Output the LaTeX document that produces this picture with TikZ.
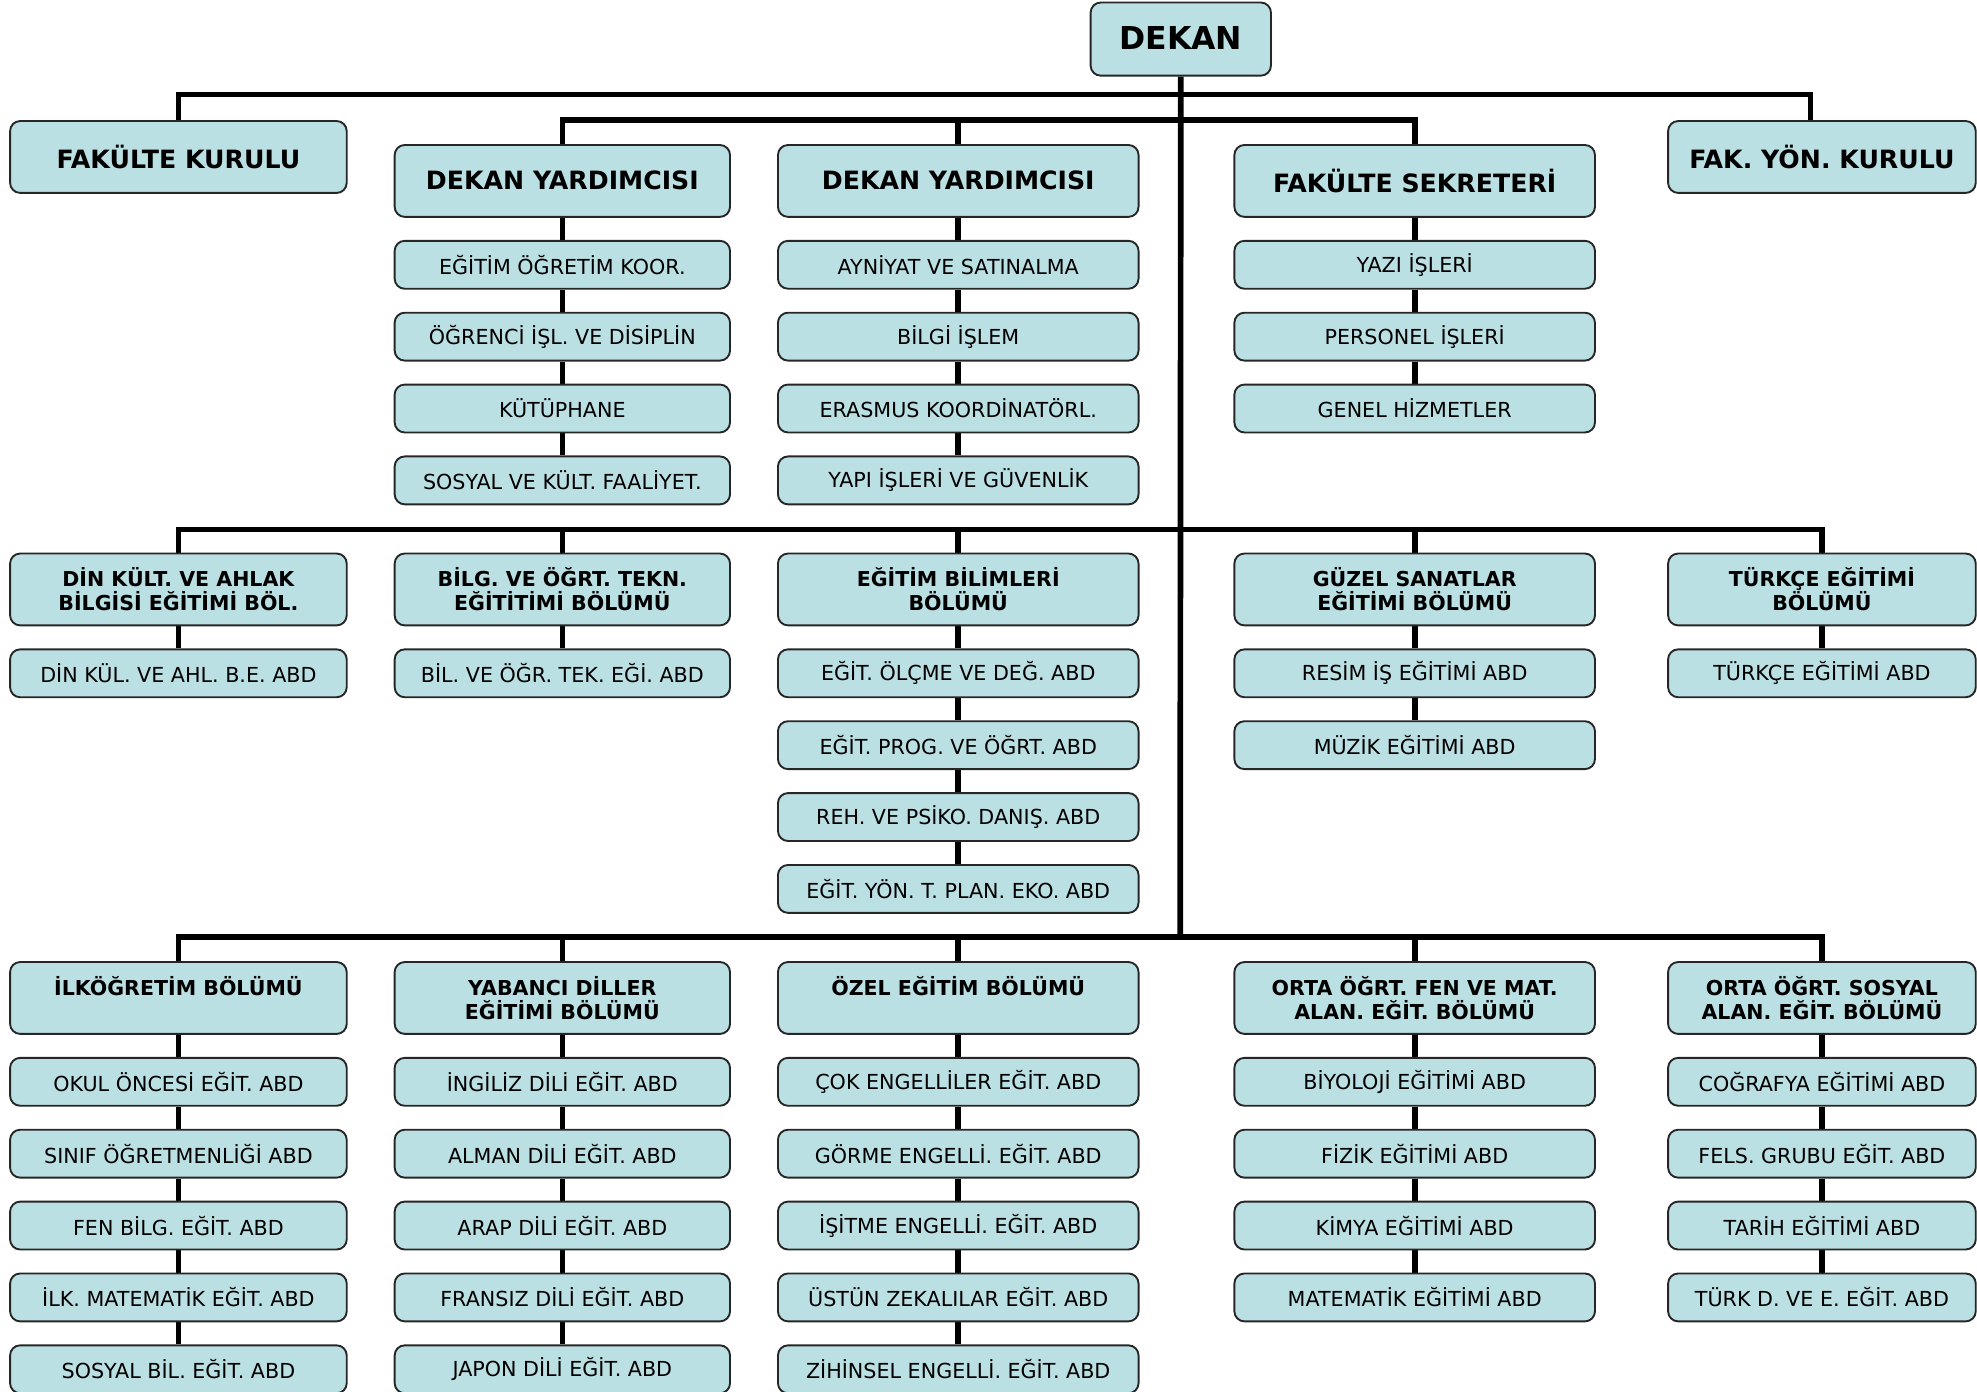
\documentclass[tikz,border=0pt]{standalone}
\usepackage{fontspec}
\setmainfont{DejaVu Sans}
\usetikzlibrary{backgrounds}
\definecolor{boxfill}{RGB}{187,224,227}
\begin{document}
\begin{tikzpicture}[x=1pt,y=-1pt,
  box/.style={draw=black!85, line width=1.5pt, fill=boxfill, rounded corners=8pt, inner sep=0pt, align=center},
  dekanbox/.style={box, minimum width=143pt, minimum height=58pt, font=\bfseries\fontsize{25}{30}\selectfont},
  headbox/.style={box, minimum height=57pt, font=\bfseries\fontsize{20}{24}\selectfont},
  deptbox/.style={box, minimum height=57pt, font=\bfseries\fontsize{16.3}{19}\selectfont},
  subbox/.style={box, minimum height=38pt, font=\fontsize{16.4}{19}\selectfont},
  wA/.style={minimum width=267pt},
  wB/.style={minimum width=266pt},
  wC/.style={minimum width=286pt},
  wD/.style={minimum width=286pt},
  wE/.style={minimum width=244pt},
  conn/.style={line width=4.5pt, draw=black}]
\useasboundingbox (0,0) rectangle (1568,1104);

% top
\node[dekanbox] (dekan) at (936.5,31) {\raisebox{1.5pt}{DEKAN}};
\node[headbox,wA] (fk)  at (141.5,124.5) {\raisebox{1pt}{FAKÜLTE KURULU}};
\node[headbox,wE] (fyk) at (1445,124.5) {\raisebox{1pt}{FAK. YÖN. KURULU}};
\node[headbox,wB] (dy1) at (446,143.5) {\raisebox{1pt}{DEKAN YARDIMCISI}};
\node[headbox,wC] (dy2) at (760,143.5) {\raisebox{1pt}{DEKAN YARDIMCISI}};
\node[headbox,wD] (fs)  at (1122,143.5) {\raisebox{1pt}{FAKÜLTE SEKRETERİ}};

\node[subbox,wB] (a1) at (446,210) {EĞİTİM ÖĞRETİM KOOR.};
\node[subbox,wB] (a2) at (446,267) {ÖĞRENCİ İŞL. VE DİSİPLİN};
\node[subbox,wB] (a3) at (446,324) {KÜTÜPHANE};
\node[subbox,wB] (a4) at (446,381) {SOSYAL VE KÜLT. FAALİYET.};

\node[subbox,wC] (b1) at (760,210) {AYNİYAT VE SATINALMA};
\node[subbox,wC] (b2) at (760,267) {BİLGİ İŞLEM};
\node[subbox,wC] (b3) at (760,324) {ERASMUS KOORDİNATÖRL.};
\node[subbox,wC] (b4) at (760,381) {YAPI İŞLERİ VE GÜVENLİK};

\node[subbox,wD] (c1) at (1122,210) {YAZI İŞLERİ};
\node[subbox,wD] (c2) at (1122,267) {PERSONEL İŞLERİ};
\node[subbox,wD] (c3) at (1122,324) {GENEL HİZMETLER};

% middle departments
\node[deptbox,wA] (d1) at (141.5,467.5) {DİN KÜLT. VE AHLAK\\BİLGİSİ EĞİTİMİ BÖL.};
\node[deptbox,wB] (d2) at (446,467.5) {BİLG. VE ÖĞRT. TEKN.\\EĞİTİTİMİ BÖLÜMÜ};
\node[deptbox,wC] (d3) at (760,467.5) {EĞİTİM BİLİMLERİ\\BÖLÜMÜ};
\node[deptbox,wD] (d4) at (1122,467.5) {GÜZEL SANATLAR\\EĞİTİMİ BÖLÜMÜ};
\node[deptbox,wE] (d5) at (1445,467.5) {TÜRKÇE EĞİTİMİ\\BÖLÜMÜ};

\node[subbox,wA] (d1a) at (141.5,534) {DİN KÜL. VE AHL. B.E. ABD};
\node[subbox,wB] (d2a) at (446,534) {BİL. VE ÖĞR. TEK. EĞİ. ABD};
\node[subbox,wC] (d3a) at (760,534) {EĞİT. ÖLÇME VE DEĞ. ABD};
\node[subbox,wC] (d3b) at (760,591) {EĞİT. PROG. VE ÖĞRT. ABD};
\node[subbox,wC] (d3c) at (760,648) {REH. VE PSİKO. DANIŞ. ABD};
\node[subbox,wC] (d3d) at (760,705) {EĞİT. YÖN. T. PLAN. EKO. ABD};
\node[subbox,wD] (d4a) at (1122,534) {RESİM İŞ EĞİTİMİ ABD};
\node[subbox,wD] (d4b) at (1122,591) {MÜZİK EĞİTİMİ ABD};
\node[subbox,wE] (d5a) at (1445,534) {TÜRKÇE EĞİTİMİ ABD};

% bottom departments
\node[deptbox,wA] (e1) at (141.5,791.5) {İLKÖĞRETİM BÖLÜMÜ\\\phantom{X}};
\node[deptbox,wB] (e2) at (446,791.5) {YABANCI DİLLER\\EĞİTİMİ BÖLÜMÜ};
\node[deptbox,wC] (e3) at (760,791.5) {ÖZEL EĞİTİM BÖLÜMÜ\\\phantom{X}};
\node[deptbox,wD] (e4) at (1122,791.5) {ORTA ÖĞRT. FEN VE MAT.\\ALAN. EĞİT. BÖLÜMÜ};
\node[deptbox,wE] (e5) at (1445,791.5) {ORTA ÖĞRT. SOSYAL\\ALAN. EĞİT. BÖLÜMÜ};

\node[subbox,wA] (e1a) at (141.5,858) {OKUL ÖNCESİ EĞİT. ABD};
\node[subbox,wA] (e1b) at (141.5,915) {SINIF ÖĞRETMENLİĞİ ABD};
\node[subbox,wA] (e1c) at (141.5,972) {FEN BİLG. EĞİT. ABD};
\node[subbox,wA] (e1d) at (141.5,1029) {İLK. MATEMATİK EĞİT. ABD};
\node[subbox,wA] (e1e) at (141.5,1086) {SOSYAL BİL. EĞİT. ABD};

\node[subbox,wB] (e2a) at (446,858) {İNGİLİZ DİLİ EĞİT. ABD};
\node[subbox,wB] (e2b) at (446,915) {ALMAN DİLİ EĞİT. ABD};
\node[subbox,wB] (e2c) at (446,972) {ARAP DİLİ EĞİT. ABD};
\node[subbox,wB] (e2d) at (446,1029) {FRANSIZ DİLİ EĞİT. ABD};
\node[subbox,wB] (e2e) at (446,1086) {JAPON DİLİ EĞİT. ABD};

\node[subbox,wC] (e3a) at (760,858) {ÇOK ENGELLİLER EĞİT. ABD};
\node[subbox,wC] (e3b) at (760,915) {GÖRME ENGELLİ. EĞİT. ABD};
\node[subbox,wC] (e3c) at (760,972) {İŞİTME ENGELLİ. EĞİT. ABD};
\node[subbox,wC] (e3d) at (760,1029) {ÜSTÜN ZEKALILAR EĞİT. ABD};
\node[subbox,wC] (e3e) at (760,1086) {ZİHİNSEL ENGELLİ. EĞİT. ABD};

\node[subbox,wD] (e4a) at (1122,858) {BİYOLOJİ EĞİTİMİ ABD};
\node[subbox,wD] (e4b) at (1122,915) {FİZİK EĞİTİMİ ABD};
\node[subbox,wD] (e4c) at (1122,972) {KİMYA EĞİTİMİ ABD};
\node[subbox,wD] (e4d) at (1122,1029) {MATEMATİK EĞİTİMİ ABD};

\node[subbox,wE] (e5a) at (1445,858) {COĞRAFYA EĞİTİMİ ABD};
\node[subbox,wE] (e5b) at (1445,915) {FELS. GRUBU EĞİT. ABD};
\node[subbox,wE] (e5c) at (1445,972) {TARİH EĞİTİMİ ABD};
\node[subbox,wE] (e5d) at (1445,1029) {TÜRK D. VE E. EĞİT. ABD};

% bus coordinates
\coordinate (busA) at (936,75);
\coordinate (busB) at (936,95);
\coordinate (busC) at (936,420);
\coordinate (busD) at (936,743);

\begin{scope}[on background layer]
  \draw[conn] (dekan.south) -- (busD);
  \draw[conn] (fk.north) |- (busA) -| ([xshift=-9pt]fyk.north);
  \draw[conn] (dy1.north) |- (busB) -| (fs.north);
  \draw[conn] (busB) -| (dy2.north);
  \draw[conn] (d1.north) |- (busC) -| (d5.north);
  \draw[conn] (busC) -| (d2.north);
  \draw[conn] (busC) -| (d3.north);
  \draw[conn] (busC) -| (d4.north);
  \draw[conn] (e1.north) |- (busD) -| (e5.north);
  \draw[conn] (busD) -| (e2.north);
  \draw[conn] (busD) -| (e3.north);
  \draw[conn] (busD) -| (e4.north);
  % chains
  \draw[conn] (dy1) -- (a1) -- (a2) -- (a3) -- (a4);
  \draw[conn] (dy2) -- (b1) -- (b2) -- (b3) -- (b4);
  \draw[conn] (fs) -- (c1) -- (c2) -- (c3);
  \draw[conn] (d1) -- (d1a);
  \draw[conn] (d2) -- (d2a);
  \draw[conn] (d3) -- (d3a) -- (d3b) -- (d3c) -- (d3d);
  \draw[conn] (d4) -- (d4a) -- (d4b);
  \draw[conn] (d5) -- (d5a);
  \draw[conn] (e1) -- (e1a) -- (e1b) -- (e1c) -- (e1d) -- (e1e);
  \draw[conn] (e2) -- (e2a) -- (e2b) -- (e2c) -- (e2d) -- (e2e);
  \draw[conn] (e3) -- (e3a) -- (e3b) -- (e3c) -- (e3d) -- (e3e);
  \draw[conn] (e4) -- (e4a) -- (e4b) -- (e4c) -- (e4d);
  \draw[conn] (e5) -- (e5a) -- (e5b) -- (e5c) -- (e5d);
\end{scope}
\end{tikzpicture}
\end{document}
